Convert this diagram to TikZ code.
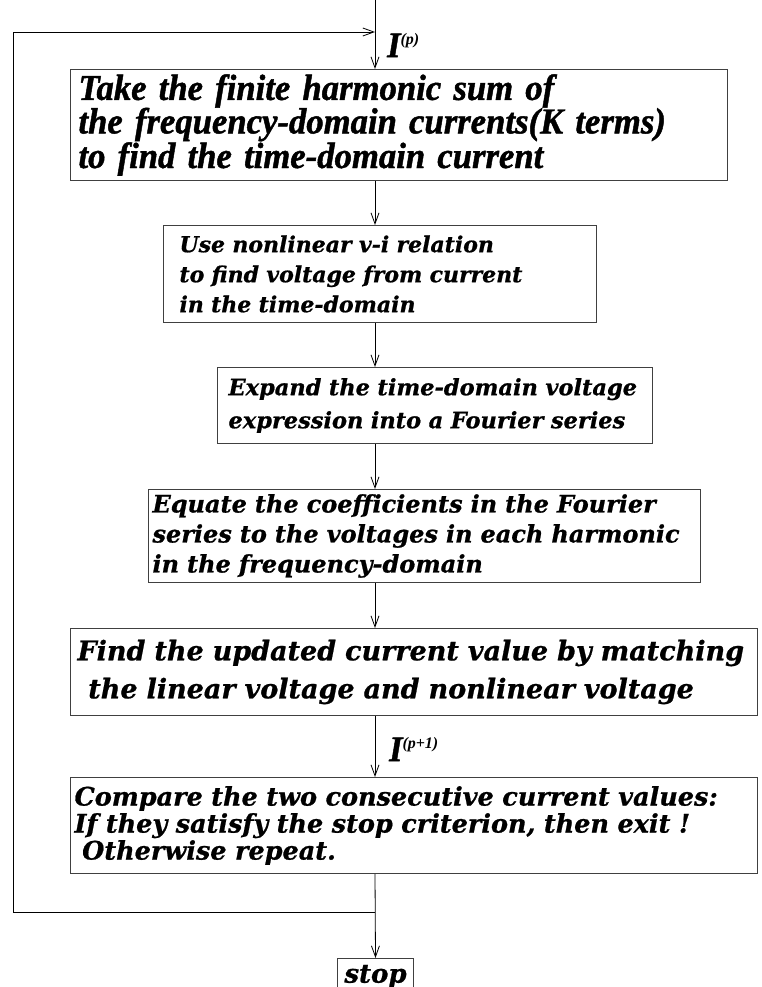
\documentclass[tikz,border=0pt]{standalone}
\usepackage{fontspec}
\usetikzlibrary{arrows.meta}
\newfontfamily\tfont[FakeStretch=0.95,BoldItalicFeatures={FakeBold=1.2}]{Liberation Serif}
\newfontfamily\sfont{Liberation Serif}
\newfontfamily\wfont[BoldItalicFeatures={FakeBold=0.8}]{DejaVu Serif}
\hyphenpenalty=10000
\begin{document}
\begin{tikzpicture}[x=1pt,y=-1pt,
  arr/.style={draw=black, line width=0.8pt, -{Straight Barb[length=11pt,width=8pt]}},
  flowbox/.style={draw=black!75, line width=1pt, anchor=north west, inner ysep=0pt, align=left},
  lbl/.style={anchor=west, inner sep=0pt},
]
\useasboundingbox (0,0) rectangle (762,987);

\coordinate (top) at (375,0);
\coordinate (fbA) at (375,912);
\coordinate (fbB) at (13,912);
\coordinate (fbC) at (13,32);
\coordinate (fbD) at (375,32);

\node[flowbox, minimum width=657pt, minimum height=111pt, inner xsep=8pt, text width=641pt,
  font=\tfont\bfseries\itshape\fontsize{36.5}{33.5}\selectfont] (b1) at (70,69)
  {Take the finite harmonic sum of\\the frequency-domain currents(K terms)\\to find the time-domain current};

\node[flowbox, minimum width=433pt, minimum height=97pt, inner xsep=16pt, text width=401pt,
  font=\wfont\bfseries\itshape\fontsize{22}{30}\selectfont] (b2) at (163,225)
  {Use nonlinear v-i relation\\to find voltage from current\\in the time-domain};

\node[flowbox, minimum width=435pt, minimum height=76pt, inner xsep=11pt, text width=413pt,
  font=\wfont\bfseries\itshape\fontsize{22.5}{33}\selectfont] (b3) at (217,367)
  {Expand the time-domain voltage\\expression into a Fourier series};

\node[flowbox, minimum width=552pt, minimum height=93pt, inner xsep=4pt, text width=544pt,
  font=\wfont\bfseries\itshape\fontsize{24}{30}\selectfont] (b4) at (148,489)
  {Equate the coefficients in the Fourier\\series to the voltages in each harmonic\\in the frequency-domain};

\node[flowbox, minimum width=687pt, minimum height=87pt, inner xsep=7pt, text width=673pt,
  font=\wfont\bfseries\itshape\fontsize{27}{38}\selectfont] (b5) at (70,628)
  {Find the updated current value by matching\\\hspace*{0.4em}the linear voltage and nonlinear voltage};

\node[flowbox, minimum width=687pt, minimum height=96pt, inner xsep=4pt, text width=679pt,
  font=\wfont\bfseries\itshape\fontsize{25.5}{27}\selectfont] (b6) at (70,777)
  {Compare the two consecutive current values:\\If they satisfy the stop criterion, then exit !\\\hspace*{0.3em}Otherwise repeat.};

\node[flowbox, minimum width=76pt, minimum height=36pt, inner xsep=2pt,
  font=\wfont\bfseries\itshape\fontsize{26}{26}\selectfont] (stop) at (337,958) {stop};

\node[lbl] (ip) at (387,45) {\tfont\bfseries\itshape\fontsize{36}{36}\selectfont I\raisebox{13pt}{\sfont\itshape\fontsize{16}{16}\selectfont(p)}};
\node[lbl] (ipp) at (389,749) {\tfont\bfseries\itshape\fontsize{36}{36}\selectfont I\raisebox{13pt}{\sfont\itshape\fontsize{16}{16}\selectfont(p+1)}};

\draw[arr] (top) -- (top |- b1.north);
\draw[arr] (b1.south -| top) -- (b2.north -| top);
\draw[arr] (b2.south -| top) -- (b3.north -| top);
\draw[arr] (b3.south -| top) -- (b4.north -| top);
\draw[arr] (b4.south -| top) -- (b5.north -| top);
\draw[arr] (b5.south -| top) -- (b6.north -| top);
\draw[arr] (b6.south -| top) -- (stop.north);
\draw[arr] (fbA) -- (fbB) -- (fbC) -- (fbD);
\end{tikzpicture}
\end{document}
